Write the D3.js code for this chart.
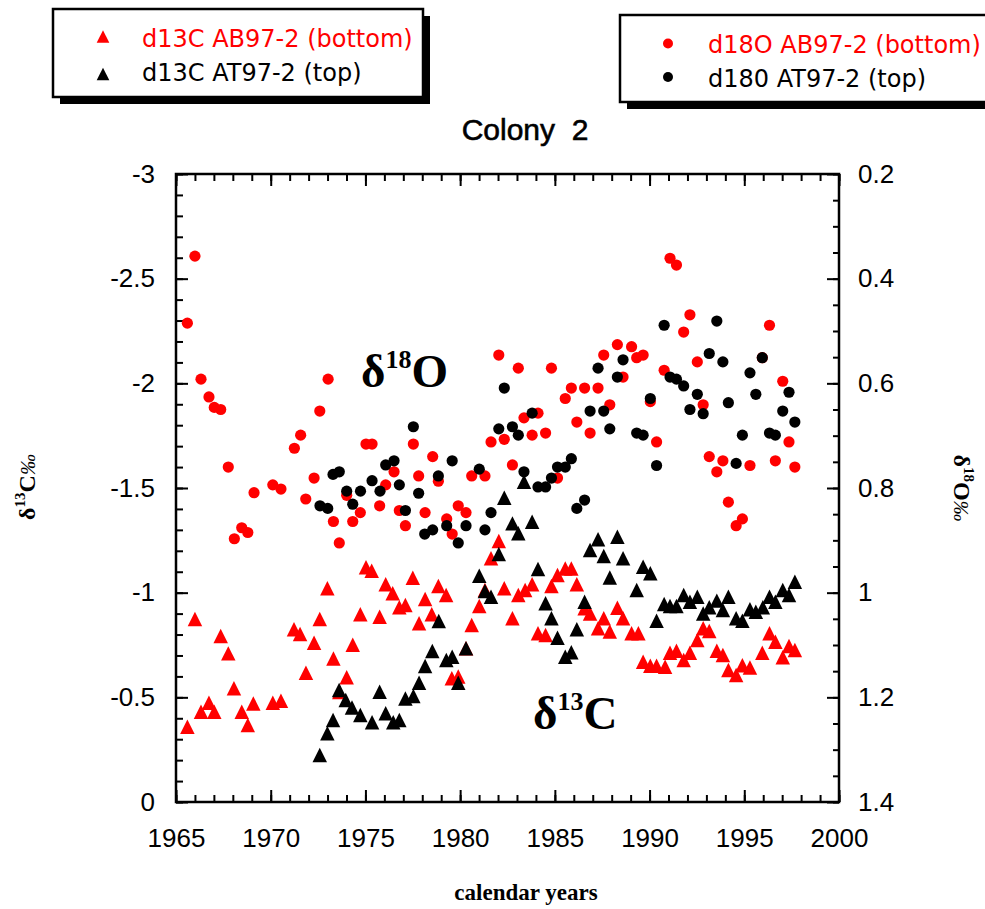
<!DOCTYPE html>
<html>
<head>
<meta charset="utf-8">
<script src="https://cdn.jsdelivr.net/npm/d3@7/dist/d3.min.js"></script>
<style>
body { margin: 0; background: #fff; }
svg { display: block; }
.tick text { font-family: "Liberation Sans", Arial, sans-serif; font-size: 26px; fill: #000; }
.tick line { stroke: #000; stroke-width: 2px; }
</style>
</head>
<body>
<svg id="chart" width="985" height="909"></svg>
<script>

// d13C, bottom part of the colony (AB97-2) : [year, permil]
var abD13C = [
 [1965.60,-0.360],[1966.00,-0.874],[1966.32,-0.431],[1966.74,-0.474],[1967.02,-0.431],[1967.36,-0.793],
 [1967.76,-0.710],[1968.06,-0.543],[1968.47,-0.431],[1968.79,-0.368],[1969.08,-0.471],[1970.11,-0.474],
 [1970.54,-0.484],[1971.23,-0.825],[1971.55,-0.803],[1971.86,-0.618],[1972.29,-0.761],[1972.59,-0.874],
 [1972.99,-1.021],[1973.31,-0.686],[1973.62,-0.525],[1974.01,-0.596],[1974.33,-0.751],[1974.73,-0.897],
 [1975.03,-1.121],[1975.33,-1.105],[1975.75,-0.885],[1976.07,-1.040],[1976.44,-0.997],[1976.79,-0.930],
 [1977.11,-0.941],[1977.50,-1.071],[1977.83,-0.854],[1978.15,-0.970],[1978.50,-0.897],[1978.85,-1.032],
 [1979.26,-0.989],[1979.56,-0.591],[1979.90,-0.599],[1980.31,-0.734],[1980.61,-0.846],[1981.01,-0.936],
 [1981.31,-1.013],[1981.63,-1.164],[1982.04,-1.247],[1982.33,-1.021],[1982.76,-0.878],[1983.07,-0.989],
 [1983.43,-1.013],[1983.80,-1.040],[1984.11,-0.806],[1984.51,-0.798],[1984.82,-1.032],[1985.14,-1.084],
 [1985.55,-1.116],[1985.87,-1.116],[1986.16,-1.040],[1986.57,-0.925],[1986.86,-0.901],[1987.28,-0.830],
 [1987.58,-0.878],[1987.90,-0.814],[1988.30,-0.928],[1988.60,-0.878],[1989.05,-0.806],[1989.41,-0.806],
 [1989.66,-0.670],[1990.04,-0.651],[1990.37,-0.651],[1990.82,-0.646],[1991.08,-0.713],[1991.42,-0.723],
 [1991.80,-0.678],[1992.13,-0.713],[1992.52,-0.774],[1992.83,-0.830],[1993.15,-0.817],[1993.55,-0.723],
 [1993.87,-0.702],[1994.16,-0.631],[1994.57,-0.607],[1994.90,-0.653],[1995.30,-0.642],[1995.95,-0.713],
 [1996.33,-0.806],[1996.64,-0.766],[1997.03,-0.691],[1997.36,-0.745],[1997.67,-0.726]
];

// d13C, top part (AT97-2)
var atD13C = [
 [1972.59,-0.225],[1972.99,-0.328],[1973.29,-0.392],[1973.61,-0.535],[1973.96,-0.487],[1974.29,-0.452],
 [1974.73,-0.416],[1975.35,-0.381],[1975.75,-0.527],[1976.07,-0.424],[1976.47,-0.381],[1976.79,-0.392],
 [1977.11,-0.495],[1977.53,-0.506],[1977.83,-0.570],[1978.15,-0.650],[1978.53,-0.721],[1978.87,-0.865],
 [1979.27,-0.678],[1979.58,-0.694],[1979.90,-0.570],[1980.31,-0.734],[1981.01,-1.081],[1981.31,-1.008],
 [1981.63,-0.981],[1982.04,-1.185],[1982.33,-1.454],[1982.76,-1.331],[1983.07,-1.284],[1983.37,-1.530],
 [1983.80,-1.339],[1984.11,-1.113],[1984.51,-0.949],[1984.82,-0.878],[1985.14,-0.785],[1985.55,-0.694],
 [1985.87,-0.715],[1986.16,-0.825],[1986.57,-0.957],[1986.86,-1.204],[1987.28,-1.255],[1987.58,-1.175],
 [1987.90,-1.073],[1988.30,-1.267],[1988.60,-1.164],[1989.32,-1.013],[1989.66,-1.124],[1990.04,-1.093],
 [1990.37,-0.866],[1990.77,-0.946],[1991.08,-0.936],[1991.42,-0.936],[1991.80,-0.989],[1992.13,-0.957],
 [1992.52,-0.981],[1992.83,-0.901],[1993.15,-0.930],[1993.55,-0.962],[1993.87,-0.917],[1994.16,-0.981],
 [1994.57,-0.878],[1994.90,-0.866],[1995.30,-0.921],[1995.61,-0.909],[1995.98,-0.930],[1996.33,-0.981],
 [1996.64,-0.957],[1997.03,-1.013],[1997.36,-0.989],[1997.67,-1.052]
];

// d18O, bottom part (AB97-2)
var abD18O = [
 [1965.60,0.485],[1966.00,0.357],[1966.32,0.592],[1966.74,0.626],[1967.02,0.646],[1967.36,0.650],
 [1967.76,0.760],[1968.08,0.897],[1968.47,0.876],[1968.79,0.885],[1969.12,0.809],[1970.11,0.794],
 [1970.54,0.802],[1971.25,0.724],[1971.58,0.699],[1971.85,0.821],[1972.29,0.781],[1972.59,0.653],
 [1973.03,0.592],[1973.31,0.864],[1973.62,0.905],[1974.01,0.814],[1974.33,0.864],[1974.73,0.847],
 [1975.03,0.716],[1975.35,0.716],[1975.75,0.834],[1976.07,0.794],[1976.51,0.769],[1976.79,0.843],
 [1977.11,0.872],[1977.53,0.716],[1977.81,0.777],[1978.15,0.847],[1978.55,0.740],[1978.85,0.787],
 [1979.29,0.859],[1979.58,0.888],[1979.90,0.834],[1980.31,0.847],[1980.61,0.777],[1981.31,0.777],
 [1981.63,0.712],[1982.04,0.546],[1982.33,0.707],[1982.76,0.756],[1983.07,0.571],[1983.37,0.666],
 [1983.80,0.699],[1984.11,0.657],[1984.51,0.695],[1984.82,0.571],[1985.14,0.781],[1985.55,0.629],
 [1985.87,0.609],[1986.16,0.674],[1986.57,0.609],[1986.86,0.695],[1987.28,0.609],[1987.58,0.546],
 [1987.90,0.641],[1988.30,0.526],[1988.60,0.588],[1989.05,0.530],[1989.32,0.551],[1989.66,0.546],
 [1990.04,0.635],[1990.37,0.712],[1990.77,0.575],[1991.08,0.361],[1991.42,0.374],[1991.80,0.502],
 [1992.13,0.469],[1992.52,0.559],[1992.83,0.641],[1993.15,0.740],[1993.55,0.769],[1993.87,0.748],
 [1994.16,0.827],[1994.57,0.872],[1994.90,0.859],[1995.30,0.757],[1995.95,0.551],[1996.33,0.489],
 [1996.64,0.748],[1997.03,0.596],[1997.36,0.712],[1997.67,0.760]
];

// d18O, top part (AT97-2)
var atD18O = [
 [1972.60,0.834],[1973.01,0.839],[1973.29,0.774],[1973.62,0.769],[1974.01,0.806],[1974.33,0.831],
 [1974.74,0.806],[1975.35,0.786],[1975.77,0.806],[1976.07,0.756],[1976.51,0.748],[1976.79,0.794],
 [1977.11,0.843],[1977.53,0.683],[1977.81,0.810],[1978.13,0.888],[1978.55,0.880],[1978.85,0.777],
 [1979.29,0.872],[1979.58,0.748],[1979.90,0.905],[1980.31,0.872],[1981.01,0.764],[1981.31,0.880],
 [1981.63,0.847],[1982.04,0.687],[1982.33,0.609],[1982.76,0.683],[1983.07,0.699],[1983.37,0.769],
 [1983.80,0.657],[1984.11,0.798],[1984.51,0.798],[1984.82,0.781],[1985.14,0.760],[1985.55,0.760],
 [1985.87,0.744],[1986.16,0.839],[1986.57,0.823],[1986.86,0.653],[1987.28,0.571],[1987.58,0.653],
 [1987.90,0.687],[1988.30,0.588],[1988.60,0.555],[1989.32,0.695],[1989.66,0.699],[1990.04,0.629],
 [1990.37,0.757],[1990.77,0.489],[1991.08,0.588],[1991.42,0.592],[1991.80,0.605],[1992.13,0.650],
 [1992.52,0.621],[1992.83,0.658],[1993.15,0.543],[1993.55,0.481],[1993.87,0.559],[1994.16,0.637],
 [1994.57,0.753],[1994.90,0.699],[1995.30,0.580],[1995.61,0.621],[1995.95,0.551],[1996.33,0.695],
 [1996.64,0.699],[1997.03,0.653],[1997.36,0.617],[1997.67,0.674]
];

var yearTicks = [1965, 1970, 1975, 1980, 1985, 1990, 1995, 2000];
var d13cTicks = [0, -0.5, -1, -1.5, -2, -2.5, -3];
var d18oTicks = [0.2, 0.4, 0.6, 0.8, 1, 1.2, 1.4];

var legendC = [
    {label: "d13C AB97-2 (bottom)", color: "#ff0000"},
    {label: "d13C AT97-2 (top)", color: "#000000"}
];
var legendO = [
    {label: "d18O AB97-2 (bottom)", color: "#ff0000"},
    {label: "d180 AT97-2 (top)", color: "#000000"}
];

var RED = "#ff0000";
var svg = d3.select("#chart");

var plotLeft = 176, plotRight = 839, plotTop = 174, plotBottom = 802;

var x = d3.scaleLinear().domain([1965, 2000]).range([plotLeft, plotRight]);
var yC = d3.scaleLinear().domain([0, -3]).range([plotBottom, plotTop]);
var yO = d3.scaleLinear().domain([1.4, 0.2]).range([plotBottom, plotTop]);

var minorYears = d3.range(1965, 2001);
var minorC = d3.range(0, 31).map(function(i){ return -i / 10; });
var minorO = d3.range(0, 25).map(function(i){ return +(0.2 + i * 0.05).toFixed(2); });

// triangle centred on its bounding box, like the original markers
var triangle = {
    draw: function(ctx, size) {
        var h = Math.sqrt(size) / 2;
        ctx.moveTo(0, -h);
        ctx.lineTo(h, h);
        ctx.lineTo(-h, h);
        ctx.closePath();
    }
};

function noDomain(g){ g.select(".domain").remove(); }

// minor ticks (no labels)
svg.append("g").attr("transform", "translate(0," + plotBottom + ")")
    .call(d3.axisBottom(x).tickValues(minorYears).tickSize(-7).tickFormat(""))
    .call(noDomain);
svg.append("g").attr("transform", "translate(0," + plotTop + ")")
    .call(d3.axisTop(x).tickValues(minorYears).tickSize(-7).tickFormat(""))
    .call(noDomain);
svg.append("g").attr("transform", "translate(" + plotLeft + ",0)")
    .call(d3.axisLeft(yC).tickValues(minorC).tickSize(-7).tickFormat(""))
    .call(noDomain);
svg.append("g").attr("transform", "translate(" + plotRight + ",0)")
    .call(d3.axisRight(yO).tickValues(minorO).tickSize(-6).tickFormat(""))
    .call(noDomain);

// major ticks + labels
svg.append("g").attr("transform", "translate(0," + plotBottom + ")")
    .call(d3.axisBottom(x).tickValues(yearTicks).tickSize(-12).tickPadding(27).tickFormat(d3.format("d")))
    .call(noDomain);
svg.append("g").attr("transform", "translate(0," + plotTop + ")")
    .call(d3.axisTop(x).tickValues(yearTicks).tickSize(-12).tickFormat(""))
    .call(noDomain);
svg.append("g").attr("transform", "translate(" + plotLeft + ",0)")
    .call(d3.axisLeft(yC).tickValues(d13cTicks).tickSize(-12).tickPadding(21).tickFormat(function(d){ return String(d); }))
    .call(noDomain);
svg.append("g").attr("transform", "translate(" + plotRight + ",0)")
    .call(d3.axisRight(yO).tickValues(d18oTicks).tickSize(-12).tickPadding(19).tickFormat(function(d){ return String(d); }))
    .call(noDomain);

svg.selectAll(".tick text").attr("font-family", null).attr("font-size", null);

// frame
svg.append("rect")
    .attr("x", plotLeft).attr("y", plotTop)
    .attr("width", plotRight - plotLeft).attr("height", plotBottom - plotTop)
    .style("fill", "none").style("stroke", "black").style("stroke-width", 2.5);

// data
var sym = d3.symbol().type(triangle).size(210);

svg.append("g").selectAll("path").data(abD13C).enter().append("path")
    .attr("d", sym)
    .attr("transform", function(d){ return "translate(" + x(d[0]) + "," + yC(d[1]) + ")"; })
    .style("fill", RED);
svg.append("g").selectAll("path").data(atD13C).enter().append("path")
    .attr("d", sym)
    .attr("transform", function(d){ return "translate(" + x(d[0]) + "," + yC(d[1]) + ")"; })
    .style("fill", "black");
svg.append("g").selectAll("circle").data(abD18O).enter().append("circle")
    .attr("cx", function(d){ return x(d[0]); })
    .attr("cy", function(d){ return yO(d[1]); })
    .attr("r", 5.6)
    .style("fill", RED);
svg.append("g").selectAll("circle").data(atD18O).enter().append("circle")
    .attr("cx", function(d){ return x(d[0]); })
    .attr("cy", function(d){ return yO(d[1]); })
    .attr("r", 5.6)
    .style("fill", "black");

// big labels inside the plot
function deltaLabel(px, py, iso, letter){
    var t = svg.append("text")
        .attr("x", px).attr("y", py)
        .style("font-family", "'Liberation Serif', 'Times New Roman', serif")
        .style("font-weight", "bold");
    t.append("tspan").style("font-size", "47px").text("δ");
    t.append("tspan").style("font-size", "26px").attr("dy", -19).text(iso);
    t.append("tspan").style("font-size", "47px").attr("dy", 19).text(letter);
}
deltaLabel(361, 387, "18", "O");
deltaLabel(533, 729, "13", "C");

// title
svg.append("text")
    .attr("x", 525).attr("y", 139.5)
    .attr("text-anchor", "middle")
    .attr("xml:space", "preserve")
    .style("font-family", "'Liberation Sans', Arial, sans-serif")
    .style("font-size", "30px")
    .style("stroke", "black").style("stroke-width", 0.6)
    .text("Colony  2");

// axis titles
function axisTitle(tx, ty, angle, iso, letter){
    var t = svg.append("text")
        .attr("transform", "translate(" + tx + "," + ty + ") rotate(" + angle + ")")
        .attr("text-anchor", "middle")
        .style("font-family", "'Liberation Serif', 'Times New Roman', serif")
        .style("font-weight", "bold")
        .style("font-size", "24px");
    t.append("tspan").text("δ");
    t.append("tspan").style("font-size", "15px").attr("dy", -10).text(iso);
    t.append("tspan").attr("dy", 10).text(letter);
    t.append("tspan").style("font-style", "italic").style("font-weight", "normal").style("font-size", "21px").text("‰");
}
axisTitle(35, 487, -90, "13", "C");
axisTitle(954, 488, 90, "18", "O");

svg.append("text")
    .attr("x", 526).attr("y", 900)
    .attr("text-anchor", "middle")
    .style("font-family", "'Liberation Serif', 'Times New Roman', serif")
    .style("font-weight", "bold")
    .style("font-size", "23px")
    .text("calendar years");

// legends: white box with a black drop shadow
function legendBox(bx, by, bw, bh){
    svg.append("rect").attr("x", bx + 7).attr("y", by + 7).attr("width", bw).attr("height", bh)
        .style("fill", "black");
    svg.append("rect").attr("x", bx).attr("y", by).attr("width", bw).attr("height", bh)
        .style("fill", "white").style("stroke", "black").style("stroke-width", 2.5);
}
legendBox(53, 9, 370, 88);
legendBox(620, 15, 380, 87);

var legSym = d3.symbol().type(triangle).size(160);
legendC.forEach(function(d, i){
    svg.append("path").attr("d", legSym)
        .attr("transform", "translate(103," + (36.5 + i * 37.5) + ")")
        .style("fill", d.color);
    svg.append("text").attr("x", 142).attr("y", 46.7 + i * 34.5)
        .style("font-family", "'DejaVu Sans', Verdana, sans-serif")
        .style("font-size", "24px")
        .style("fill", d.color)
        .text(d.label);
});
legendO.forEach(function(d, i){
    svg.append("circle").attr("cx", 668).attr("cy", 43.5 + i * 33.5).attr("r", 5)
        .style("fill", d.color);
    svg.append("text").attr("x", 708).attr("y", 52.7 + i * 34)
        .style("font-family", "'DejaVu Sans', Verdana, sans-serif")
        .style("font-size", "24px")
        .style("fill", d.color)
        .text(d.label);
});

</script>
</body>
</html>
